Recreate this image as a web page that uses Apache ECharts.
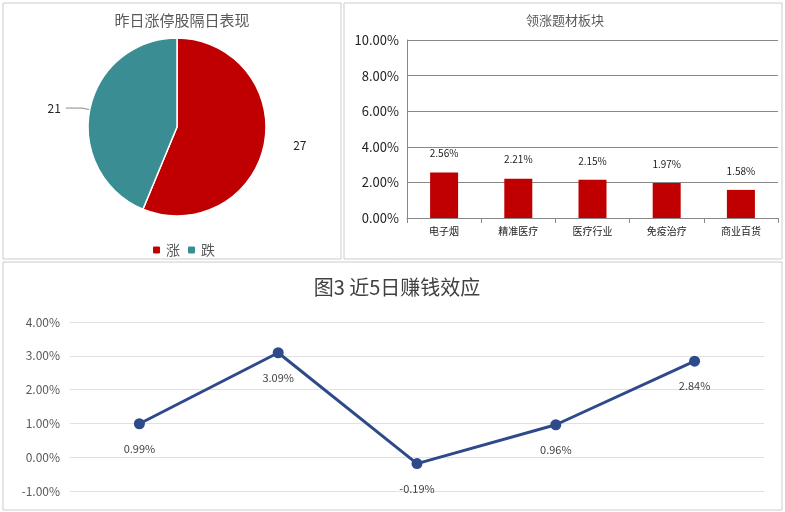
<!DOCTYPE html>
<html><head><meta charset="utf-8">
<script src="https://cdn.jsdelivr.net/npm/echarts@6/dist/echarts.min.js"></script>
<style>html,body{margin:0;padding:0;background:#fff}#c{width:785px;height:512px}</style>
</head><body><div id="c"></div>
<script>
const pieNames = ['涨', '跌'];
const pieValues = [27, 21];
const barCategories = ['电子烟', '精准医疗', '医疗行业', '免疫治疗', '商业百货'];
const barValues = [2.56, 2.21, 2.15, 1.97, 1.58];
const lineCategories = ['1', '2', '3', '4', '5'];
const lineValues = [0.99, 3.09, -0.19, 0.96, 2.84];

const font = '"Noto Sans CJK SC", "Microsoft YaHei", sans-serif';
const chart = echarts.init(document.getElementById('c'));
chart.setOption({
  animation: false,
  textStyle: { fontFamily: font },
  graphic: [
    { type: 'rect', shape: { x: 3, y: 3, width: 338, height: 256 }, style: { fill: 'none', stroke: '#c8ccd0', lineWidth: 1 } },
    { type: 'rect', shape: { x: 344, y: 3, width: 438, height: 256 }, style: { fill: 'none', stroke: '#c8ccd0', lineWidth: 1 } },
    { type: 'rect', shape: { x: 3, y: 262, width: 779, height: 248 }, style: { fill: 'none', stroke: '#c8ccd0', lineWidth: 1 } }
  ],
  title: [
    { text: '昨日涨停股隔日表现', left: 177, top: 8, textAlign: 'center', textStyle: { fontSize: 15, fontWeight: 'normal', color: '#595959', fontFamily: font } },
    { text: '领涨题材板块', left: 560, top: 9, textAlign: 'center', textStyle: { fontSize: 13, fontWeight: 'normal', color: '#595959', fontFamily: font } },
    { text: '图3 近5日赚钱效应', left: 392, top: 272, textAlign: 'center', textStyle: { fontSize: 20, fontWeight: 'normal', color: '#404040', fontFamily: font } }
  ],
  legend: {
    data: pieNames, left: 146, top: 238, itemWidth: 9, itemHeight: 9, itemGap: 6,
    textStyle: { fontSize: 14, color: '#595959' }
  },
  grid: [
    { left: 407, right: 7, top: 40, bottom: 294 },
    { left: 70, right: 21, top: 322, bottom: 21 }
  ],
  xAxis: [
    { gridIndex: 0, type: 'category', data: barCategories,
      axisLine: { lineStyle: { color: '#888' } }, axisTick: { show: true, lineStyle: { color: '#888' } },
      axisLabel: { fontSize: 10, color: '#222', margin: 8 } },
    { gridIndex: 1, type: 'category', data: lineCategories, axisLine: { show: false }, axisTick: { show: false }, axisLabel: { show: false } }
  ],
  yAxis: [
    { gridIndex: 0, type: 'value', min: 0, max: 10, interval: 2,
      axisLine: { show: true, lineStyle: { color: '#888' } },
      splitLine: { lineStyle: { color: '#888' } },
      axisLabel: { fontSize: 13, color: '#222', formatter: v => v.toFixed(2) + '%' } },
    { gridIndex: 1, type: 'value', min: -1, max: 4, interval: 1,
      splitLine: { lineStyle: { color: '#e0e0e0' } },
      axisLabel: { fontSize: 12, color: '#595959', margin: 10, formatter: v => v.toFixed(2) + '%' } }
  ],
  series: [
    { type: 'pie', center: [177, 127], radius: 89, startAngle: 90, clockwise: true,
      data: pieNames.map((n, i) => ({ name: n, value: pieValues[i],
        labelLine: { show: i === 1 } })),
      color: ['#C00000', '#3A8E93'],
      itemStyle: { borderColor: '#fff', borderWidth: 1.5 },
      label: { formatter: '{c}', fontSize: 12, color: '#222' },
      labelLine: { length: 8, length2: 16, lineStyle: { color: '#888' } } },
    { type: 'bar', xAxisIndex: 0, yAxisIndex: 0, data: barValues, barWidth: 28,
      itemStyle: { color: '#C00000' },
      label: { show: true, position: 'top', distance: 14, fontSize: 10, color: '#222', formatter: p => p.value.toFixed(2) + '%' } },
    { type: 'line', xAxisIndex: 1, yAxisIndex: 1, data: lineValues,
      symbol: 'circle', symbolSize: 11,
      lineStyle: { color: '#2F4A8A', width: 3 }, itemStyle: { color: '#2F4A8A' },
      label: { show: true, position: 'bottom', distance: 14, fontSize: 11, color: '#404040', formatter: p => p.value.toFixed(2) + '%' } }
  ]
});
</script></body></html>
